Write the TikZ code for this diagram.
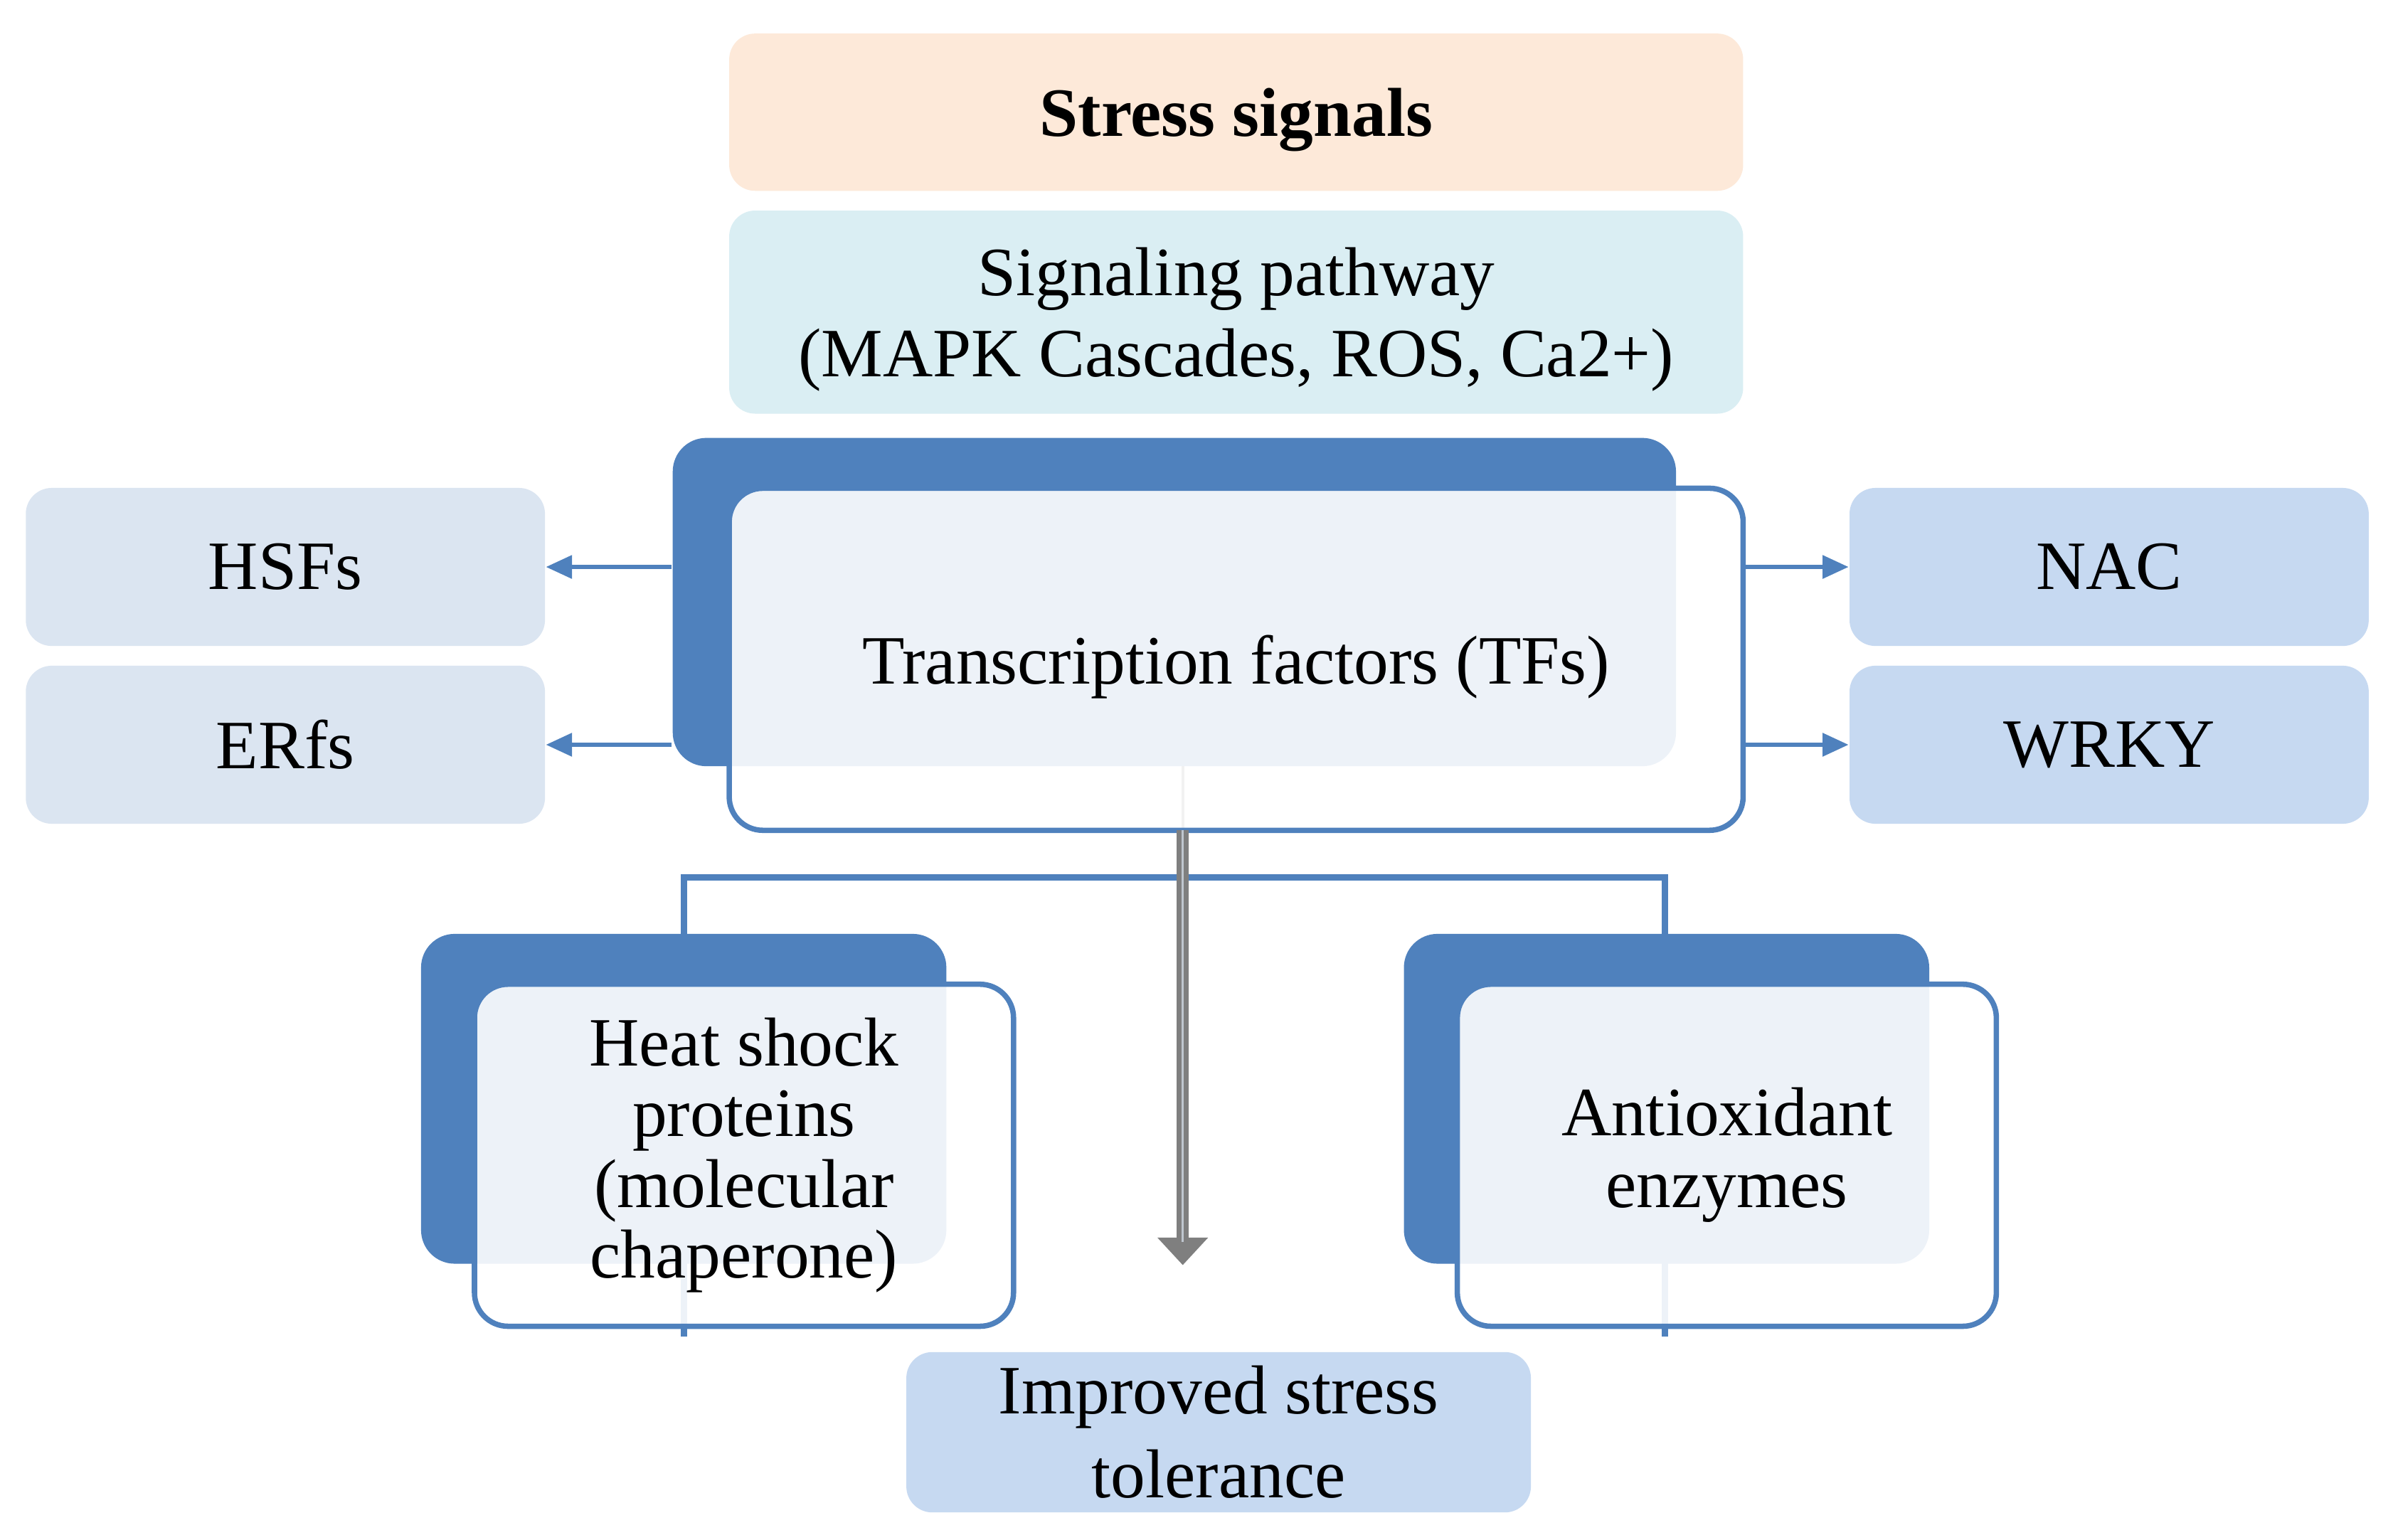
\documentclass[tikz,border=0pt]{standalone}
\usepackage{fontspec}
\setmainfont{Liberation Serif}
\usetikzlibrary{arrows.meta}
\definecolor{dblue}{HTML}{4F81BD}
\definecolor{peach}{HTML}{FDE9D9}
\definecolor{lcyan}{HTML}{DAEEF3}
\definecolor{lblue}{HTML}{DBE5F1}
\definecolor{mblue}{HTML}{C6D9F1}
\definecolor{arrowgray}{HTML}{7F7F7F}
\pgfdeclarelayer{bg}
\pgfdeclarelayer{canvas}
\pgfsetlayers{canvas,bg,main}
\newcommand{\txtfont}{\fontsize{12.9pt}{15pt}\selectfont}
\tikzset{
  basebox/.style={rounded corners=0.17cm, inner sep=0pt, align=center, font=\txtfont},
  backbox/.style={basebox, rounded corners=0.22cm, fill=dblue},
  frontbox/.style={basebox, rounded corners=0.22cm, draw=dblue, line width=1pt, fill=white, fill opacity=0.9, text opacity=1, draw opacity=1},
  sidebox/.style={basebox, minimum width=3.40cm, minimum height=1.035cm},
  sidearrow/.style={dblue, line width=0.7pt, -{Triangle[length=0.17cm,width=0.15cm]}},
  bracket/.style={dblue, line width=1.2pt},
  grayarrow/.style={arrowgray, line width=0.08cm, -{Triangle[length=0.18cm,width=0.32cm]}},
  faintline/.style={arrowgray, line width=0.5pt}
}
\begin{document}
\begin{tikzpicture}[x=0.01cm,y=-0.01cm]
\begin{pgfonlayer}{canvas}
  \fill[white] (0,0) rectangle (1568,1008.7);
\end{pgfonlayer}
\useasboundingbox (0,0) rectangle (1568,1008.7);

% top boxes
\node[basebox, fill=peach, minimum width=6.64cm, minimum height=1.03cm, text depth=0pt, font=\txtfont\bfseries] (stress) at (810,73.5) {Stress signals};
\node[basebox, fill=lcyan, minimum width=6.64cm, minimum height=1.33cm, text depth=0pt, font=\fontsize{12.9pt}{15.2pt}\selectfont] (sig) at (810,204.5) {Signaling pathway\\(MAPK Cascades, ROS, Ca2+)};

% transcription factors
\node[backbox, minimum width=6.57cm, minimum height=2.15cm] (tfback) at (769.5,394.5) {};
\node[frontbox, minimum width=6.64cm, minimum height=2.24cm, text depth=0pt] (tf) at (810,432) {Transcription factors (TFs)};

% side boxes
\node[sidebox, fill=lblue] (hsf) at (187,371.5) {HSFs};
\node[sidebox, fill=lblue] (erf) at (187,488) {ERfs};
\node[sidebox, fill=mblue] (nac) at (1382,371.5) {NAC};
\node[sidebox, fill=mblue] (wrky) at (1382,488) {WRKY};

% bottom boxes
\node[backbox, minimum width=3.44cm, minimum height=2.16cm] (hsback) at (448,720) {};
\node[frontbox, minimum width=3.53cm, minimum height=2.24cm, font=\fontsize{12.9pt}{13.2pt}\selectfont] (hsp) at (487.5,757) {Heat shock\\proteins\\(molecular\\chaperone)};
\node[backbox, minimum width=3.44cm, minimum height=2.16cm] (aoback) at (1092,720) {};
\node[frontbox, minimum width=3.53cm, minimum height=2.24cm, font=\fontsize{12.9pt}{13.4pt}\selectfont] (ao) at (1131.5,757) {Antioxidant\\enzymes};

\node[basebox, fill=mblue, minimum width=4.09cm, minimum height=1.05cm, font=\fontsize{12.9pt}{15.6pt}\selectfont] (imp) at (798.5,938.5) {Improved stress\\tolerance};

% connector coordinates
\coordinate (brk) at (775,575);
\coordinate (hsend) at (448,876);
\coordinate (aoend) at (1091,876);
\coordinate (tfline) at (775,420);
\coordinate (gstart) at (775,544);
\coordinate (gend) at (775,829);

\begin{pgfonlayer}{bg}
  \draw[bracket] (hsend) |- (brk) -| (aoend);
  \draw[faintline] (tfline) -- (gstart);
\end{pgfonlayer}

% side arrows
\draw[sidearrow] (hsf -| tfback.west) -- (hsf.east);
\draw[sidearrow] (erf -| tfback.west) -- (erf.east);
\draw[sidearrow] (nac -| tf.east) -- (nac.west);
\draw[sidearrow] (wrky -| tf.east) -- (wrky.west);

% gray arrow
\draw[grayarrow] (gstart) -- (gend);
\draw[line width=0.4pt, color=lblue!70!arrowgray] (gstart) -- ([yshift=0.15cm]gend);
\end{tikzpicture}
\end{document}
